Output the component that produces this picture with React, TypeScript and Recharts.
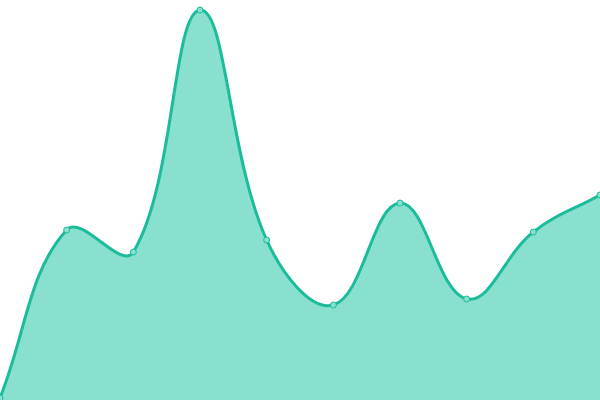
import { AreaChart, Area, XAxis, YAxis } from "recharts";

const labels = ["A", "B", "C", "D", "E", "F", "G", "H", "I", "J"];
const values = [2, 170, 148, 390, 160, 95, 197, 101, 168, 205];

const data = labels.map((name, i) => ({ name, value: values[i] }));

// bezier spline like chart.js "tension" curves (tangent parallel to prev->next)
function tensionCurve(tension: number) {
  return (context: any) => {
    let pts: [number, number][] = [];
    let line = NaN;
    return {
      areaStart() {
        line = 0;
      },
      areaEnd() {
        line = NaN;
      },
      lineStart() {
        pts = [];
      },
      point(x: number, y: number) {
        pts.push([+x, +y]);
      },
      lineEnd() {
        const n = pts.length;
        if (n) {
          if (line) context.lineTo(pts[0][0], pts[0][1]);
          else context.moveTo(pts[0][0], pts[0][1]);
          const ctrl = pts.map((cur, i) => {
            const prev = pts[i - 1] ?? cur;
            const next = pts[i + 1] ?? cur;
            const d01 = Math.hypot(cur[0] - prev[0], cur[1] - prev[1]);
            const d12 = Math.hypot(next[0] - cur[0], next[1] - cur[1]);
            let s01 = d01 / (d01 + d12);
            let s12 = d12 / (d01 + d12);
            if (!isFinite(s01)) s01 = 0;
            if (!isFinite(s12)) s12 = 0;
            const fa = tension * s01;
            const fb = tension * s12;
            const dx = next[0] - prev[0];
            const dy = next[1] - prev[1];
            return {
              prev: [cur[0] - fa * dx, cur[1] - fa * dy],
              next: [cur[0] + fb * dx, cur[1] + fb * dy],
            };
          });
          for (let i = 0; i < n - 1; i++) {
            const a = ctrl[i].next;
            const b = ctrl[i + 1].prev;
            context.bezierCurveTo(a[0], a[1], b[0], b[1], pts[i + 1][0], pts[i + 1][1]);
          }
        }
        if (line || (line !== 0 && n === 1)) context.closePath();
        line = 1 - line;
      },
    };
  };
}

const curve = tensionCurve(0.4);

export default function App() {
  return (
    <div style={{ position: "absolute", left: 0, top: 0, width: 600, height: 400 }}>
      <AreaChart
        width={600}
        height={400}
        data={data}
        margin={{ top: 0, right: 0, bottom: 0, left: 0 }}
      >
        <XAxis dataKey="name" hide padding={{ left: 0, right: 0 }} />
        <YAxis hide domain={[0, 400]} />
        <Area
          type={curve as any}
          dataKey="value"
          stroke="#1abc9c"
          strokeWidth={3}
          fill="#8ae0ce"
          fillOpacity={1}
          dot={{ r: 3, fill: "#8ae0ce", stroke: "#1abc9c", strokeWidth: 1, fillOpacity: 1 }}
          activeDot={false}
          isAnimationActive={false}
        />
      </AreaChart>
    </div>
  );
}
